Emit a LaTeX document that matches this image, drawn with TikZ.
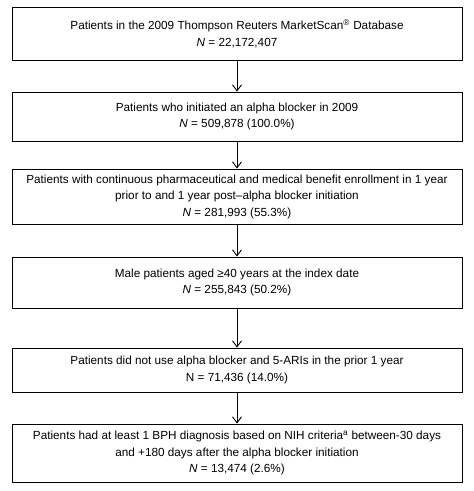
\documentclass[tikz,border=0pt]{standalone}
\usepackage{fontspec}
\setmainfont{Liberation Sans}
\usetikzlibrary{arrows.meta}
\begin{document}
\begin{tikzpicture}[x=1pt,y=1pt,
  boxstyle/.style={draw=black, line width=0.9pt, minimum width=450pt, inner sep=0pt, align=center,
    font=\fontsize{11.75}{16.5}\selectfont},
  arrowstyle/.style={line width=0.9pt, -{Straight Barb[length=6pt,width=9pt]}}]
\useasboundingbox (0,0) rectangle (474,-491);
\node[boxstyle, minimum height=53pt] (b1) at (237,-33.5) {Patients in the 2009 Thompson Reuters MarketScan\textsuperscript{\textregistered} Database\\ \textit{N} = 22,172,407};
\node[boxstyle, minimum height=49pt] (b2) at (237,-116.5) {Patients who initiated an alpha blocker in 2009\\ \textit{N} = 509,878 (100.0\%)};
\node[boxstyle, minimum height=55pt] (b3) at (237,-196.5) {Patients with continuous pharmaceutical and medical benefit enrollment in 1 year\\ prior to and 1 year post–alpha blocker initiation\\ \textit{N} = 281,993 (55.3\%)};
\node[boxstyle, minimum height=51pt] (b4) at (237,-282.5) {Male patients aged ≥40 years at the index date\\ \textit{N} = 255,843 (50.2\%)};
\node[boxstyle, minimum height=44pt] (b5) at (237,-370) {Patients did not use alpha blocker and 5-ARIs in the prior 1 year\\ N = 71,436 (14.0\%)};
\node[boxstyle, minimum height=58pt] (b6) at (237,-453) {Patients had at least 1 BPH diagnosis based on NIH criteria\textsuperscript{a} between-30 days\\ and +180 days after the alpha blocker initiation\\ \textit{N} = 13,474 (2.6\%)};
\draw[arrowstyle] (b1.south) -- (b2.north);
\draw[arrowstyle] (b2.south) -- (b3.north);
\draw[arrowstyle] (b3.south) -- (b4.north);
\draw[arrowstyle] (b4.south) -- (b5.north);
\draw[arrowstyle] (b5.south) -- (b6.north);
\end{tikzpicture}
\end{document}
